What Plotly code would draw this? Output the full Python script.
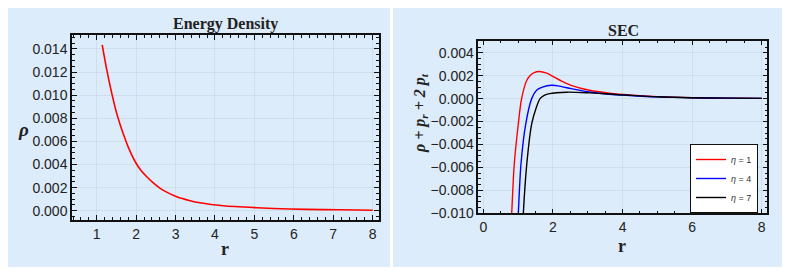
import plotly.graph_objects as go

# ---- Energy density data ----
r_rho = [1.14, 1.25, 1.38, 1.51, 1.6, 1.68, 1.8, 1.97, 2.12, 2.27, 2.45, 2.61, 2.8, 3.03, 3.37, 3.62, 4.21, 5.06, 5.9, 6.75, 7.6, 8.0]
rho = [0.01435, 0.0123, 0.0102, 0.0084, 0.0074, 0.0066, 0.0055, 0.00428, 0.0035, 0.00294, 0.00236, 0.00194, 0.00157, 0.00121, 0.00087,
       0.00069, 0.00043, 0.00026, 0.00015, 0.0001, 0.00006, 0.00004]

# ---- SEC data ----
r_sec1 = [0.78, 0.816, 0.89, 1.006, 1.10, 1.25, 1.34, 1.45, 1.61, 1.82, 2.0, 2.25, 2.52, 3.05, 3.62, 4.2, 5.0, 6.0, 7.0, 8.0]
sec1 = [-0.0125, -0.010, -0.00568, -0.00219, 0.0, 0.0016, 0.0020, 0.00225, 0.00236, 0.00222, 0.00194,
        0.00152, 0.00116, 0.00073, 0.00048, 0.00032, 0.00017, 0.00008, 0.00004, 0.00002]
r_sec4 = [0.98, 1.006, 1.083, 1.22, 1.39, 1.53, 1.7, 1.96, 2.25, 2.52, 3.05, 3.62, 4.2, 5.0, 6.0, 7.0, 8.0]
sec4 = [-0.0115, -0.010, -0.00568, -0.0022, 0.0, 0.00073, 0.001, 0.00116, 0.00105, 0.00087, 0.00058,
        0.00038, 0.00027, 0.00015, 0.00008, 0.00004, 0.00002]
r_sec7 = [1.13, 1.15, 1.25, 1.39, 1.52, 1.63, 1.75, 1.9, 2.4, 3.05, 3.62, 4.2, 5.0, 6.0, 7.0, 8.0]
sec7 = [-0.0115, -0.010, -0.00568, -0.0022, -0.0008, 0.0, 0.00028, 0.00043, 0.00056, 0.00050, 0.00040,
        0.00029, 0.00016, 0.00008, 0.00004, 0.00002]

legend_names = ["<i>η</i> = 1", "<i>η</i> = 4", "<i>η</i> = 7"]
colors = ["#ff0000", "#0000ff", "#000000"]

# page body has an 8px margin: the figure is sized to fill the rest of the window
OFF = 8
W, H = 790 - OFF, 273 - OFF
PANEL = "rgb(221,236,251)"
GRID = "rgba(170,185,200,0.25)"


def px_x(p):
    return (p - OFF) / W


def px_y(p):
    return (H - (p - OFF)) / H


fig = go.Figure()
fig.add_trace(go.Scatter(x=r_rho, y=rho, mode="lines", line=dict(color="#ff0000", width=1.6, shape="spline", smoothing=0.8),
                         showlegend=False, xaxis="x", yaxis="y"))
for rr, vv, nm, c in zip([r_sec1, r_sec4, r_sec7], [sec1, sec4, sec7], legend_names, colors):
    fig.add_trace(go.Scatter(x=rr, y=vv, mode="lines", name=nm,
                             line=dict(color=c, width=1.4, shape="spline", smoothing=0.8),
                             xaxis="x2", yaxis="y2"))

axis_common = dict(
    showline=True, linecolor="#111", linewidth=1.5, mirror="ticks",
    ticks="inside", ticklen=5, tickwidth=1, tickcolor="#111",
    showgrid=True, gridcolor=GRID, gridwidth=1, zeroline=False,
    tickfont=dict(family="Liberation Sans, Arial", size=14, color="#222"),
)


def ann(text, x, y, size, angle=0):
    return dict(text=text, x=px_x(x), y=px_y(y), xref="paper", yref="paper",
                xanchor="center", yanchor="middle", textangle=angle,
                showarrow=False, font=dict(family="Liberation Serif, DejaVu Serif", size=size, color="#222"))


fig.update_layout(
    width=W, height=H,
    margin=dict(l=0, r=0, t=0, b=0, autoexpand=False),
    paper_bgcolor="white",
    plot_bgcolor=PANEL,
    showlegend=True,
    xaxis=dict(domain=[px_x(72), px_x(379)], range=[0.374, 8.16], anchor="y",
               tickvals=[1, 2, 3, 4, 5, 6, 7, 8],
               minor=dict(dtick=0.2, tick0=0, ticks="inside", ticklen=3, tickcolor="#111", showgrid=False),
               **axis_common),
    yaxis=dict(domain=[px_y(220), px_y(35)], range=[-0.0008, 0.0152], anchor="x",
               tickvals=[0, 0.002, 0.004, 0.006, 0.008, 0.010, 0.012, 0.014], tickformat=".3f",
               minor=dict(dtick=0.0005, tick0=0, ticks="inside", ticklen=3, tickcolor="#111", showgrid=False),
               **axis_common),
    xaxis2=dict(domain=[px_x(478.3), px_x(767.3)], range=[-0.144, 8.16], anchor="y2",
                tickvals=[0, 2, 4, 6, 8],
                minor=dict(dtick=0.5, tick0=0, ticks="inside", ticklen=3, tickcolor="#111", showgrid=False),
                **axis_common),
    yaxis2=dict(domain=[px_y(213.3), px_y(40.7)], range=[-0.010, 0.00505], anchor="x2",
                tickvals=[-0.010, -0.008, -0.006, -0.004, -0.002, 0, 0.002, 0.004], tickformat=".3f",
                minor=dict(dtick=0.0005, tick0=0, ticks="inside", ticklen=3, tickcolor="#111", showgrid=False),
                **axis_common),
    legend=dict(x=px_x(758), y=px_y(144), xanchor="right", yanchor="top",
                bgcolor="white", bordercolor="#111", borderwidth=1,
                font=dict(family="Liberation Sans, Arial", size=9, color="#333"),
                itemwidth=30, tracegroupgap=0),
    shapes=[
        dict(type="rect", xref="paper", yref="paper", x0=px_x(5), x1=px_x(390), y0=px_y(267), y1=px_y(4),
             fillcolor=PANEL, line=dict(width=0), layer="below"),
        dict(type="rect", xref="paper", yref="paper", x0=px_x(393), x1=px_x(784), y0=px_y(267), y1=px_y(4),
             fillcolor=PANEL, line=dict(width=0), layer="below"),
    ],
    annotations=[
        ann("<b>Energy Density</b>", 225, 24, 16),
        ann("<b>SEC</b>", 623, 30.5, 16),
        ann("<b>r</b>", 225, 249, 18),
        ann("<b>r</b>", 622, 246, 18),
        ann("<b><i>ρ</i></b>", 23, 129, 19),
        ann("<b><i>ρ + p<sub>r</sub> + 2 p<sub>t</sub></i></b>", 420, 113, 16, -90),
    ],
)

fig.write_html("out.html")
